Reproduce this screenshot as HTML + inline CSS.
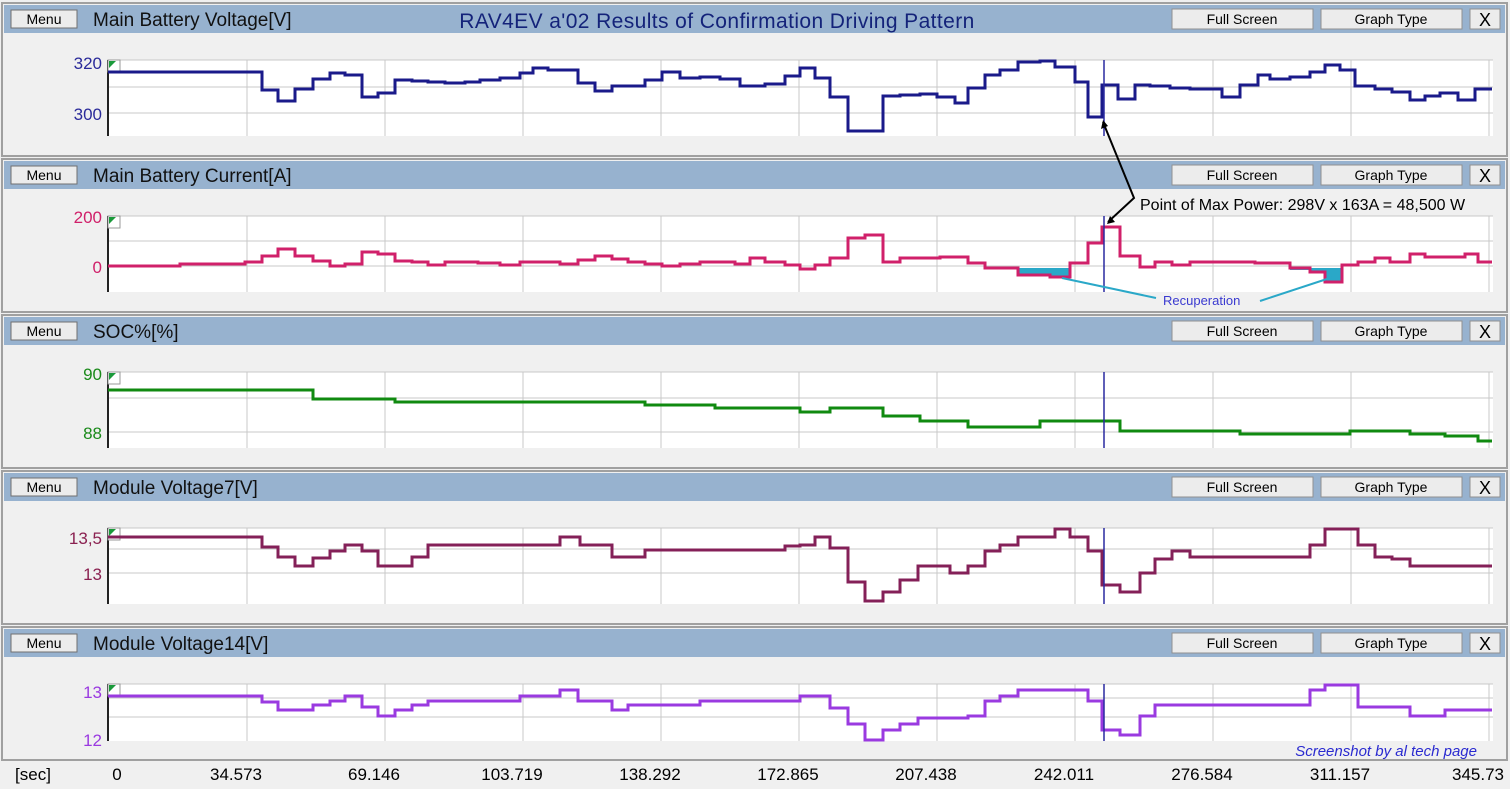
<!DOCTYPE html>
<html><head><meta charset="utf-8"><style>
body{margin:0;width:1510px;height:784px;overflow:hidden;background:#f0f0f0;font-family:"Liberation Sans",sans-serif;}
</style></head><body>
<svg width="1510" height="784" xmlns="http://www.w3.org/2000/svg" font-family="Liberation Sans, sans-serif">
<rect width="1510" height="784" fill="#f0f0f0"/>
<g id="panels">
<g stroke="#a0a0a0" fill="none" stroke-width="2">
<rect x="2" y="3" width="1505" height="153"/><rect x="2" y="159" width="1505" height="153"/><rect x="2" y="315" width="1505" height="153"/><rect x="2" y="471" width="1505" height="153"/><rect x="2" y="627" width="1505" height="133"/>
</g>
<g fill="#97b2cf">
<rect x="4" y="5" width="1501" height="28"/><rect x="4" y="161" width="1501" height="28"/><rect x="4" y="317" width="1501" height="28"/><rect x="4" y="473" width="1501" height="28"/><rect x="4" y="629" width="1501" height="28"/>
</g>
<g fill="#ffffff">
<rect x="108" y="60" width="1385" height="76"/><rect x="108" y="216" width="1385" height="76"/><rect x="108" y="372" width="1385" height="76"/><rect x="108" y="528" width="1385" height="76"/><rect x="108" y="684" width="1385" height="57"/>
</g>
<g stroke="#c8c8c8" stroke-width="1">
<path d="M108,60H1493M108,87H1493M108,113H1493M108,216H1493M108,241H1493M108,266H1493M108,372H1493M108,398H1493M108,432H1493M108,528H1493M108,549H1493M108,573H1493M108,684H1493M108,698H1493M108,717H1493"/>
<path d="M247,60V136M385,60V136M523,60V136M661,60V136M799,60V136M937,60V136M1075,60V136M1213,60V136M1351,60V136M1489,60V136"/>
<path d="M247,216V292M385,216V292M523,216V292M661,216V292M799,216V292M937,216V292M1075,216V292M1213,216V292M1351,216V292M1489,216V292"/>
<path d="M247,372V448M385,372V448M523,372V448M661,372V448M799,372V448M937,372V448M1075,372V448M1213,372V448M1351,372V448M1489,372V448"/>
<path d="M247,528V604M385,528V604M523,528V604M661,528V604M799,528V604M937,528V604M1075,528V604M1213,528V604M1351,528V604M1489,528V604"/>
<path d="M247,684V741M385,684V741M523,684V741M661,684V741M799,684V741M937,684V741M1075,684V741M1213,684V741M1351,684V741M1489,684V741"/>
</g>
<g stroke="#222" stroke-width="2"><path d="M108,60V136M108,216V292M108,372V448M108,528V604M108,684V741"/></g>
<g>
<rect x="108" y="60" width="12" height="12" fill="#fff" stroke="#999"/><path d="M109,61h7l-7,7z" fill="#1a9a3a"/>
<rect x="108" y="216" width="12" height="12" fill="#fff" stroke="#999"/><path d="M109,217h7l-7,7z" fill="#1a9a3a"/>
<rect x="108" y="372" width="12" height="12" fill="#fff" stroke="#999"/><path d="M109,373h7l-7,7z" fill="#1a9a3a"/>
<rect x="108" y="528" width="12" height="12" fill="#fff" stroke="#999"/><path d="M109,529h7l-7,7z" fill="#1a9a3a"/>
<rect x="108" y="684" width="12" height="12" fill="#fff" stroke="#999"/><path d="M109,685h7l-7,7z" fill="#1a9a3a"/>
</g>
<g font-size="14" text-anchor="middle" fill="#000">
<g id="b">
<rect x="11" y="10" width="66" height="18" fill="#ececec" stroke="#707070"/><text x="44" y="24">Menu</text>
<rect x="1172" y="9" width="141" height="20" fill="#ececec" stroke="#909090"/><text x="1242" y="24">Full Screen</text>
<rect x="1321" y="9" width="141" height="20" fill="#ececec" stroke="#909090"/><text x="1391" y="24">Graph Type</text>
<rect x="1470" y="9" width="30" height="20" fill="#ececec" stroke="#909090"/><text x="1485" y="26" font-size="18">X</text>
</g>
<use href="#b" y="156"/><use href="#b" y="312"/><use href="#b" y="468"/><use href="#b" y="624"/>
</g>
<g font-size="19" fill="#111">
<text x="93" y="26">Main Battery Voltage[V]</text>
<text x="93" y="182">Main Battery Current[A]</text>
<text x="93" y="338">SOC%[%]</text>
<text x="93" y="494">Module Voltage7[V]</text>
<text x="93" y="650">Module Voltage14[V]</text>
</g>
<text x="717" y="28" font-size="21" letter-spacing="0.4" fill="#14237a" text-anchor="middle">RAV4EV a'02 Results of Confirmation Driving  Pattern</text>
<g font-size="17" text-anchor="end">
<text x="102" y="69" fill="#2a2a9a">320</text><text x="102" y="120" fill="#2a2a9a">300</text>
<text x="102" y="223" fill="#d0206a">200</text><text x="102" y="273" fill="#d0206a">0</text>
<text x="102" y="380" fill="#1a8a1a">90</text><text x="102" y="439" fill="#1a8a1a">88</text>
<text x="102" y="544" fill="#8a2050">13,5</text><text x="102" y="580" fill="#8a2050">13</text>
<text x="102" y="698" fill="#9a3ae0">13</text><text x="102" y="746" fill="#9a3ae0">12</text>
</g>
</g>
<path d="M985,268 H1018 V275 H1050 V277 H1070 V268 Z" fill="#2aa8c8"/>
<path d="M1290,268 V270 H1310 V272 H1325 V282 H1342 V268 Z" fill="#2aa8c8"/>
<g fill="none" stroke-width="3">
<path stroke="#1a1a8a" d="M108,72 H262 V90 H278 V101 H295 V89 H313 V79 H330 V73 H345 V75 H362 V97 H378 V93 H395 V80 H412 V81 H428 V82 H445 V83 H465 V82 H480 V80 H500 V78 H520 V73 H533 V68 H548 V70 H578 V83 H595 V91 H612 V86 H645 V80 H662 V72 H680 V78 H700 V77 H720 V79 H740 V86 H765 V84 H785 V76 H800 V68 H815 V78 H830 V97 H848 V131 H883 V96 H900 V95 H920 V94 H937 V97 H955 V103 H968 V88 H985 V75 H1000 V70 H1018 V62 H1040 V61 H1055 V67 H1075 V82 H1088 V117 H1102 V85 H1118 V99 H1135 V85 H1150 V86 H1170 V88 H1190 V89 H1222 V97 H1240 V85 H1258 V75 H1270 V79 H1290 V77 H1310 V72 H1325 V65 H1340 V70 H1355 V86 H1375 V89 H1392 V92 H1410 V100 H1425 V96 H1440 V93 H1458 V100 H1475 V89 H1492"/>
<path stroke="#d0206a" d="M108,266 H180 V264 H245 V262 H262 V256 H278 V249 H295 V256 H313 V261 H330 V266 H345 V264 H362 V252 H378 V254 H395 V261 H412 V262 H428 V265 H445 V262 H478 V263 H500 V265 H520 V262 H560 V264 H578 V260 H595 V256 H612 V259 H628 V262 H645 V264 H662 V266 H680 V264 H700 V262 H735 V264 H750 V258 H765 V262 H785 V265 H800 V269 H815 V265 H830 V258 H848 V238 H865 V235 H883 V262 H900 V258 H940 V257 H968 V263 H985 V268 H1018 V275 H1050 V277 H1070 V263 H1088 V243 H1102 V227 H1120 V256 H1140 V267 H1155 V262 H1172 V265 H1190 V262 H1210 V262 H1255 V263 H1290 V268 H1310 V272 H1325 V282 H1342 V265 H1358 V262 H1375 V258 H1390 V262 H1410 V254 H1425 V257 H1445 V257 H1465 V254 H1478 V262 H1492"/>
<path stroke="#108a10" d="M108,390 H313 V399 H395 V402 H645 V405 H715 V408 H800 V412 H830 V408 H883 V416 H920 V421 H968 V427 H1040 V421 H1120 V431 H1240 V434 H1350 V431 H1410 V434 H1445 V436 H1478 V441 H1492"/>
<path stroke="#842058" d="M108,537 H262 V547 H278 V557 H295 V566 H313 V558 H330 V551 H345 V545 H362 V551 H378 V566 H412 V557 H428 V545 H560 V537 H580 V545 H612 V557 H645 V550 H785 V546 H800 V545 H815 V537 H830 V548 H848 V582 H865 V601 H883 V592 H900 V580 H918 V566 H950 V573 H968 V566 H985 V551 H1000 V545 H1018 V537 H1055 V529 H1070 V537 H1088 V551 H1102 V585 H1120 V592 H1140 V573 H1155 V559 H1172 V551 H1190 V557 H1310 V545 H1325 V529 H1358 V545 H1375 V557 H1392 V559 H1410 V566 H1492"/>
<path stroke="#9a3ae0" d="M108,696 H262 V702 H278 V710 H313 V705 H330 V701 H345 V696 H362 V707 H378 V716 H395 V710 H412 V705 H428 V701 H520 V696 H560 V690 H578 V701 H612 V710 H628 V705 H700 V701 H800 V696 H830 V708 H848 V724 H865 V740 H883 V730 H900 V724 H918 V718 H968 V716 H985 V701 H1000 V696 H1018 V690 H1088 V701 H1102 V730 H1120 V735 H1140 V716 H1155 V705 H1310 V690 H1325 V685 H1358 V707 H1410 V716 H1445 V710 H1492"/>
</g>
<g stroke="#2a2aa0" stroke-width="1.5"><path d="M1104,60V136M1104,216V292M1104,372V448M1104,528V604M1104,684V741"/></g>
<g stroke="#000" stroke-width="2" fill="none"><path d="M1103,122 L1134,198 L1108,222"/></g>
<path d="M1103,120 l-2,9 l7,-3z M1107,224 l3,-8 l5,6z" fill="#000"/>
<text x="1140" y="210" font-size="16" fill="#000">Point of Max Power: 298V x 163A = 48,500 W</text>
<g stroke="#2aa8c8" stroke-width="2"><path d="M1062,278 L1156,298 M1260,301 L1336,276"/></g>
<text x="1163" y="305" font-size="13" fill="#3a3ad0">Recuperation</text>
<g font-size="17" fill="#000" text-anchor="middle">
<text x="33" y="780">[sec]</text><text x="117" y="780">0</text><text x="236" y="780">34.573</text><text x="374" y="780">69.146</text><text x="512" y="780">103.719</text><text x="650" y="780">138.292</text><text x="788" y="780">172.865</text><text x="926" y="780">207.438</text><text x="1064" y="780">242.011</text><text x="1202" y="780">276.584</text><text x="1340" y="780">311.157</text><text x="1478" y="780">345.73</text>
</g>
<text x="1477" y="756" font-size="15" font-style="italic" fill="#2a2ad0" text-anchor="end">Screenshot by al tech page</text>
</svg>
</body></html>
